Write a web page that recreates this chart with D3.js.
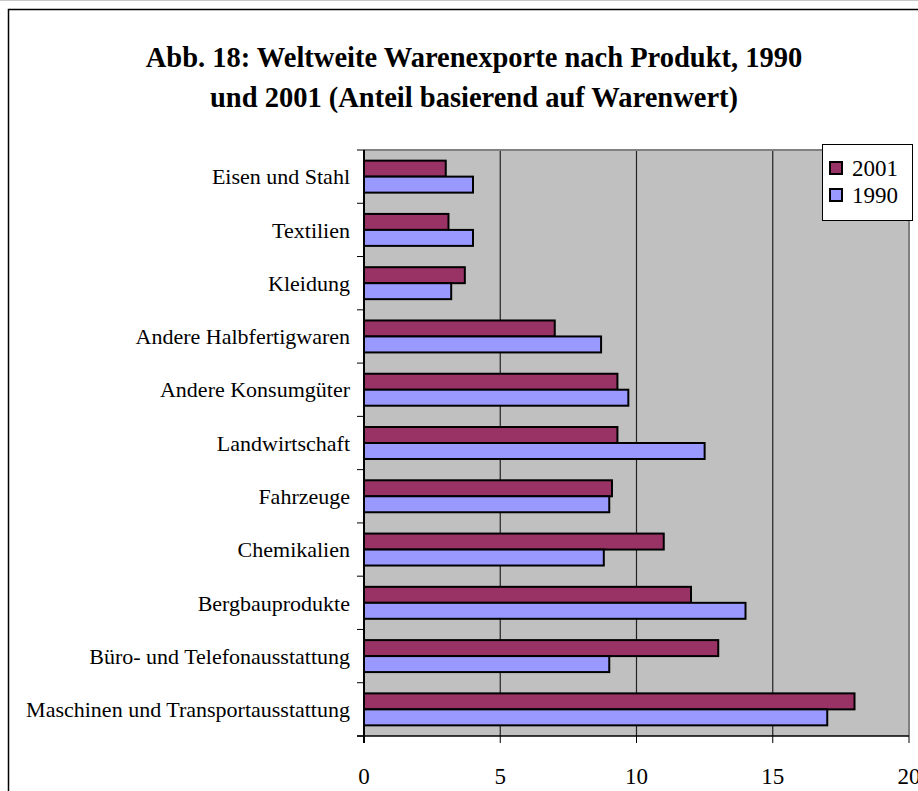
<!DOCTYPE html>
<html><head><meta charset="utf-8">
<script src="https://cdn.jsdelivr.net/npm/d3@7"></script>
<style>html,body{margin:0;padding:0;background:#fff;}svg{display:block;}</style>
</head><body>
<script>
const categories = ["Eisen und Stahl","Textilien","Kleidung","Andere Halbfertigwaren","Andere Konsumgüter","Landwirtschaft","Fahrzeuge","Chemikalien","Bergbauprodukte","Büro- und Telefonausstattung","Maschinen und Transportausstattung"];
const values2001 = [3.0,3.1,3.7,7.0,9.3,9.3,9.1,11.0,12.0,13.0,18.0];
const values1990 = [4.0,4.0,3.2,8.7,9.7,12.5,9.0,8.8,14.0,9.0,17.0];
const seriesNames = ["2001","1990"];
const seriesColors = ["#993366","#9999FF"];
const xTicks = [0,5,10,15,20];
const titleLines = ["Abb. 18: Weltweite Warenexporte nach Produkt, 1990","und 2001 (Anteil basierend auf Warenwert)"];

const W=918,H=791;
const font = "'Liberation Serif','Times New Roman',serif";
const svg = d3.select("body").append("svg").attr("width",W).attr("height",H);
svg.append("rect").attr("width",W).attr("height",H).attr("fill","#fff");
svg.append("line").attr("x1",0).attr("x2",W).attr("y1",0.5).attr("y2",0.5).attr("stroke","#c8c8c8");
svg.append("path").attr("d","M8.5,"+(H+5)+"V9.5H"+(W+5)).attr("fill","none").attr("stroke","#000").attr("stroke-width",1.5);

const L=364,R=909,T=150,B=736;
const x = d3.scaleLinear().domain([0,20]).range([L,R]);
const y = d3.scaleBand().domain(categories).range([T,B]).paddingInner(0.4).paddingOuter(0.2);
const ySub = d3.scaleBand().domain(seriesNames).range([0,y.bandwidth()]);

svg.append("g").selectAll("text").data(titleLines).join("text")
  .attr("x",474).attr("y",(d,i)=>67+i*40).attr("text-anchor","middle")
  .attr("font-family",font).attr("font-weight","bold").attr("font-size",28.5).attr("fill","#000").text(d=>d);

svg.append("rect").attr("x",L).attr("y",T).attr("width",R-L).attr("height",B-T).attr("fill","#C0C0C0");
svg.append("g").selectAll("line").data(xTicks.filter(t=>t>0&&t<20)).join("line")
  .attr("x1",d=>x(d)).attr("x2",d=>x(d)).attr("y1",T).attr("y2",B).attr("stroke","#222").attr("stroke-width",1.2);
svg.append("path").attr("d",`M${L},${T}H${R}V${B}`).attr("fill","none").attr("stroke","#808080").attr("stroke-width",2);

const data = categories.map((c,i)=>({c,vals:[values2001[i],values1990[i]]}));
const g = svg.append("g").selectAll("g").data(data).join("g").attr("transform",d=>`translate(0,${y(d.c)})`);
g.selectAll("rect").data(d=>d.vals.map((v,j)=>({v,s:seriesNames[j],col:seriesColors[j]}))).join("rect")
  .attr("x",x(0)).attr("y",d=>ySub(d.s)).attr("width",d=>x(d.v)-x(0)).attr("height",ySub.bandwidth())
  .attr("fill",d=>d.col).attr("stroke","#000").attr("stroke-width",2);

const step = y.step();
const yAxis = svg.append("g");
yAxis.append("line").attr("x1",L).attr("x2",L).attr("y1",T).attr("y2",B+7).attr("stroke","#000").attr("stroke-width",2);
yAxis.selectAll(".tk").data(d3.range(categories.length+1)).join("line").attr("class","tk")
  .attr("x1",L-7).attr("x2",L).attr("y1",i=>T+i*step).attr("y2",i=>T+i*step).attr("stroke","#000").attr("stroke-width",1);
yAxis.selectAll("text").data(categories).join("text")
  .attr("x",350).attr("y",d=>y(d)+y.bandwidth()/2).attr("dy","0.35em").attr("text-anchor","end")
  .attr("font-family",font).attr("font-size",22).attr("fill","#000").text(d=>d);

const xAxis = svg.append("g");
xAxis.append("line").attr("x1",L-7).attr("x2",R).attr("y1",B).attr("y2",B).attr("stroke","#000").attr("stroke-width",1.5);
xAxis.selectAll(".tk").data(xTicks).join("line").attr("class","tk")
  .attr("x1",d=>x(d)).attr("x2",d=>x(d)).attr("y1",B).attr("y2",B+7).attr("stroke","#000");
xAxis.selectAll("text").data(xTicks).join("text")
  .attr("x",d=>x(d)).attr("y",784).attr("text-anchor","middle")
  .attr("font-family",font).attr("font-size",23).attr("fill","#000").text(d=>d);

const lg = svg.append("g");
lg.append("rect").attr("x",822.5).attr("y",144.5).attr("width",90).attr("height",76).attr("fill","#fff").attr("stroke","#000").attr("stroke-width",1);
const li = lg.selectAll("g").data(seriesNames).join("g").attr("transform",(d,i)=>`translate(0,${168+i*27})`);
li.append("rect").attr("x",830).attr("y",-6).attr("width",12).attr("height",12).attr("fill",(d,i)=>seriesColors[i]).attr("stroke","#000").attr("stroke-width",2);
li.append("text").attr("x",852).attr("y",0).attr("dy","0.35em").attr("font-family",font).attr("font-size",23).attr("fill","#000").text(d=>d);
</script>
</body></html>
